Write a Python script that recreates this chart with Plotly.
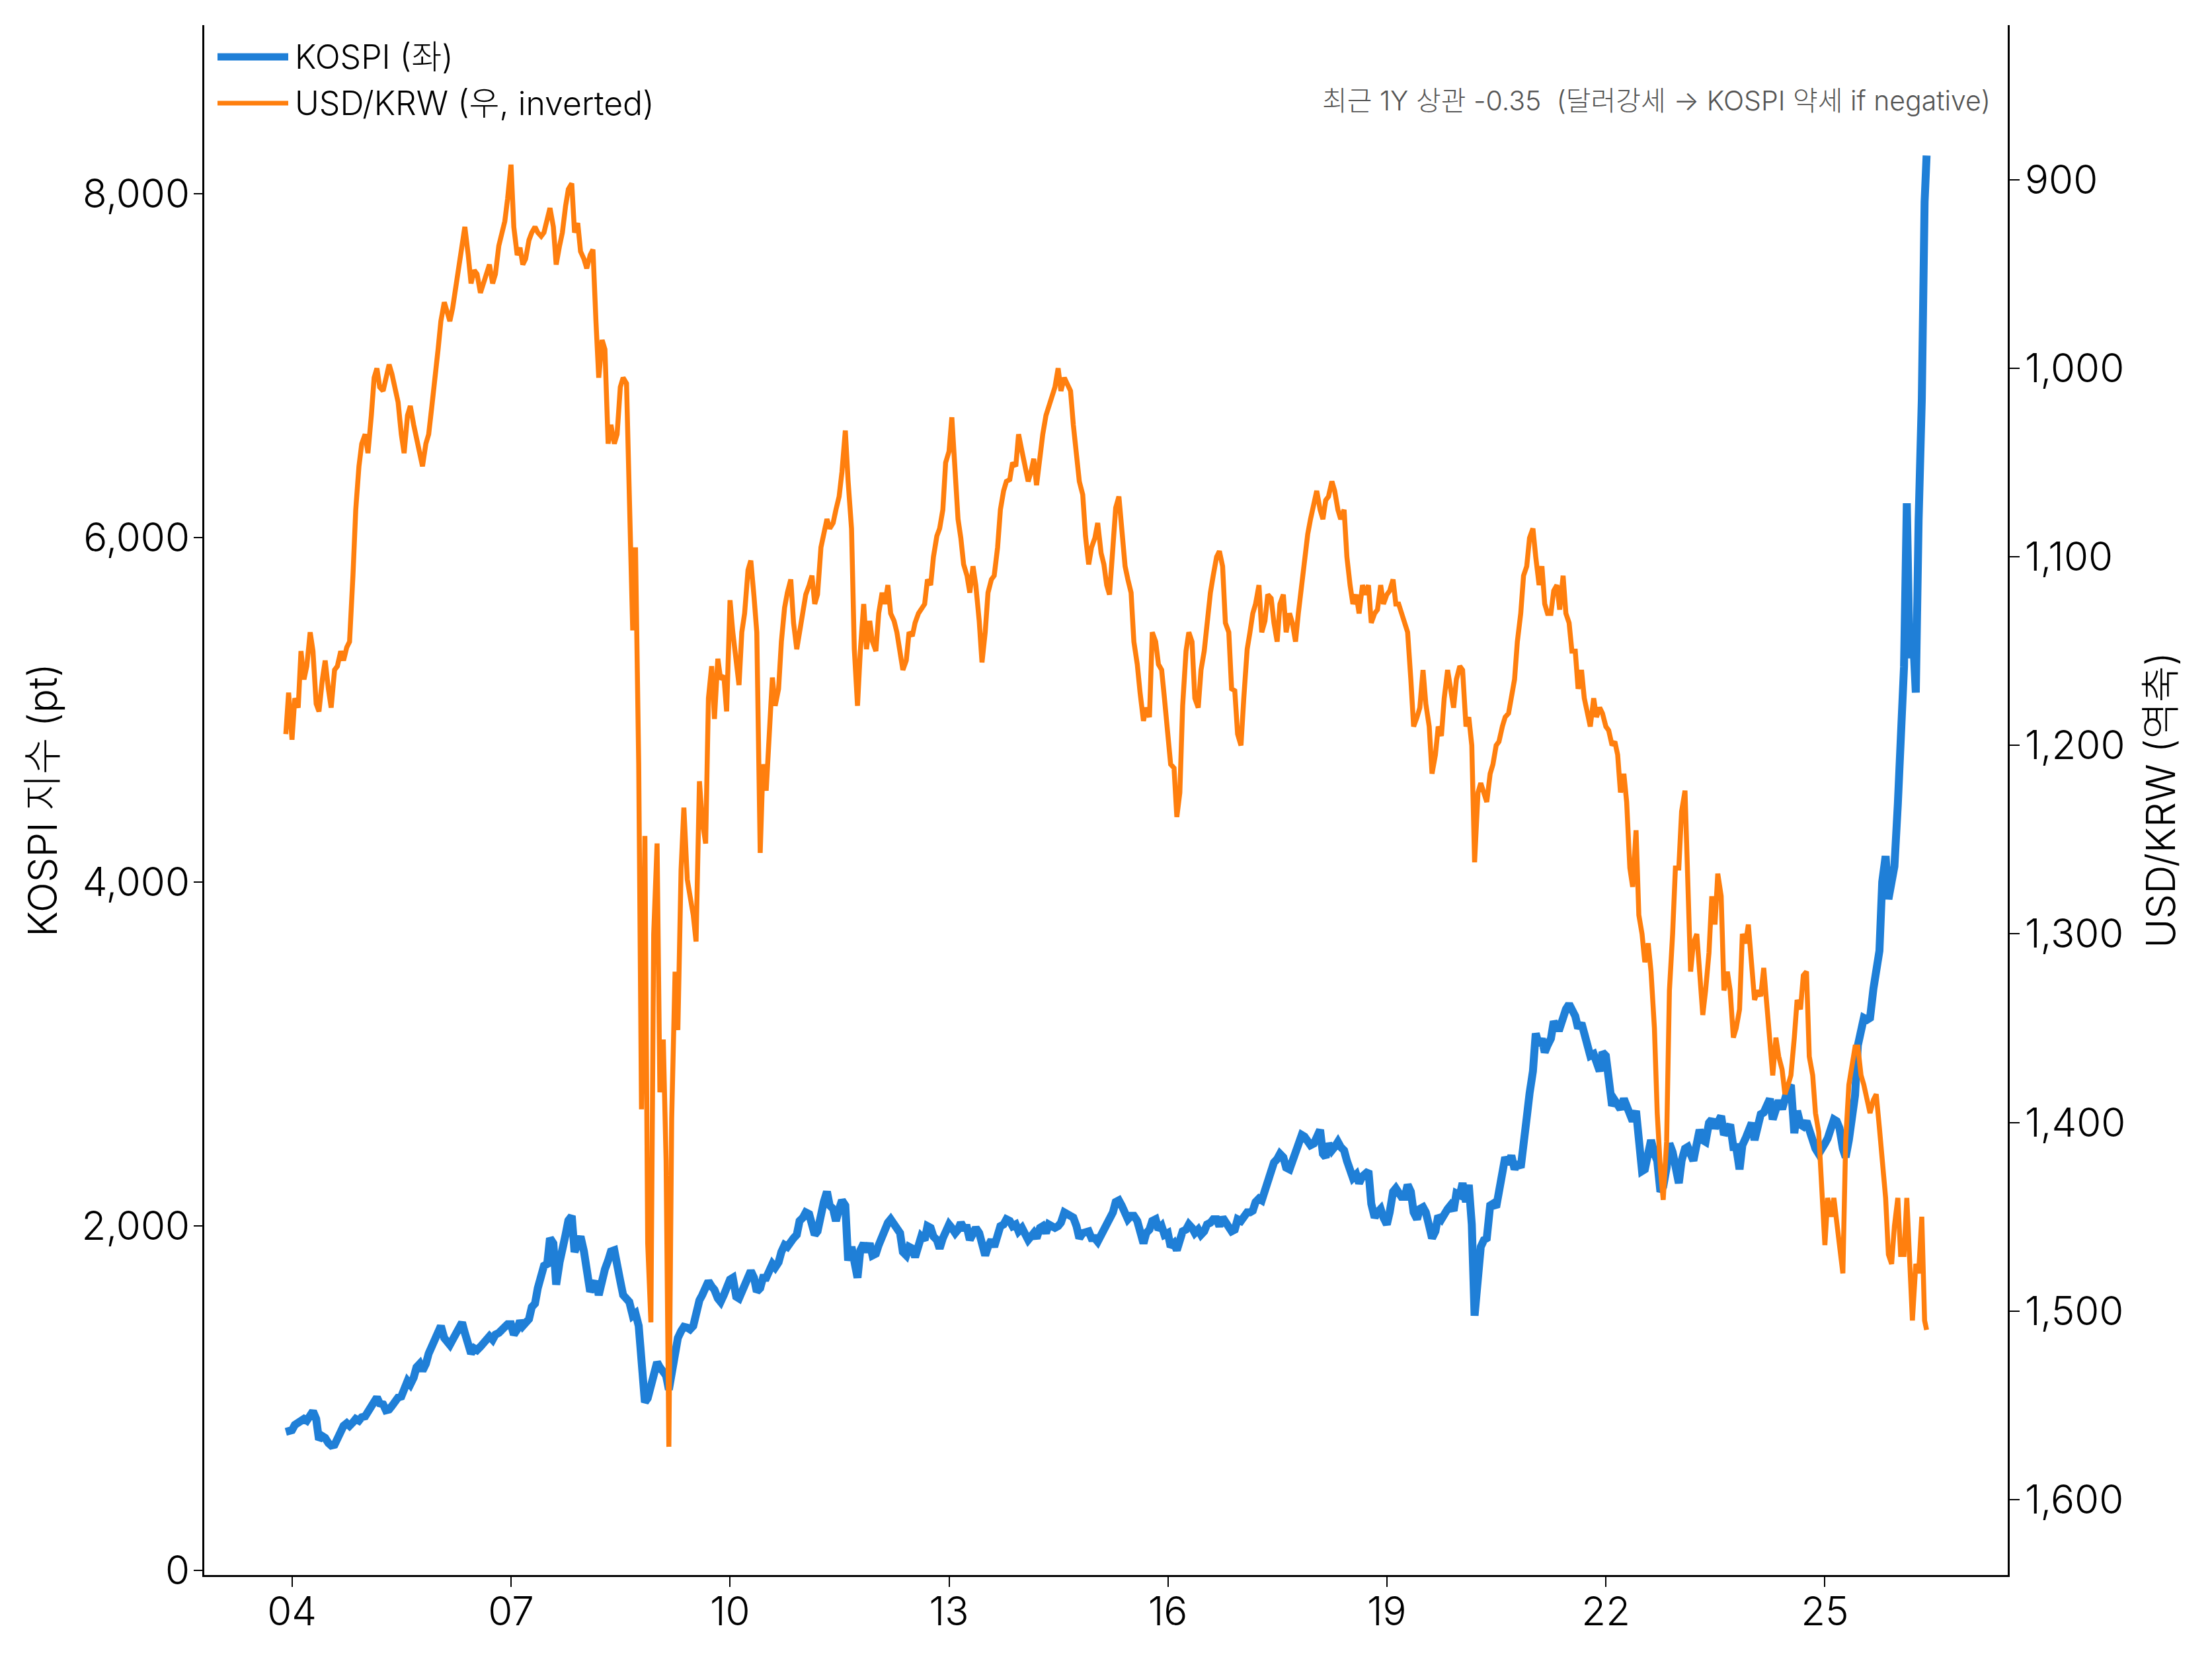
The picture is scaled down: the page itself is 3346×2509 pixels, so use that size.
import pandas as pd
import plotly.graph_objects as go

# ---- data (semi-monthly readings: 1st and 15th of each month, Dec 2003 -> May 2026, plus final print) ----
dates = list(pd.date_range("2003-12-01", "2026-05-15", freq="SMS")) + [pd.Timestamp("2026-05-25")]

kospi = [
    805, 812,  # 2003-12
    815, 845, 860, 880, 880, 870, 905, 925, 880, 760, 780, 770, 740, 725, 730, 770, 810, 840, 855, 840, 860, 880, 870, 890,  # 2004
    895, 920, 950, 990, 1005, 970, 965, 930, 935, 955, 990, 1005, 1010, 1070, 1100, 1080, 1120, 1180, 1200, 1160, 1200, 1260, 1300, 1340,  # 2005
    1390, 1420, 1350, 1330, 1310, 1340, 1370, 1410, 1440, 1380, 1330, 1260, 1290, 1280, 1300, 1320, 1350, 1360, 1340, 1370, 1380, 1400, 1410, 1430,  # 2006
    1430, 1370, 1400, 1450, 1420, 1440, 1460, 1530, 1550, 1640, 1720, 1770, 1780, 1930, 1900, 1660, 1790, 1850, 1950, 2033, 2059, 1850, 1900, 1940,  # 2007
    1853, 1700, 1620, 1650, 1680, 1600, 1700, 1750, 1800, 1853, 1860, 1740, 1680, 1600, 1570, 1560, 1480, 1493, 1420, 1132, 977, 1000, 1081, 1150,  # 2008
    1209, 1180, 1158, 1132, 1050, 1150, 1250, 1350, 1390, 1415, 1410, 1400, 1420, 1493, 1570, 1600, 1640, 1680, 1650, 1630, 1580, 1560, 1600, 1660,  # 2009
    1690, 1700, 1590, 1580, 1620, 1660, 1710, 1740, 1700, 1620, 1640, 1700, 1700, 1740, 1780, 1760, 1790, 1850, 1890, 1880, 1920, 1930, 1950, 2030,  # 2010
    2050, 2080, 2070, 1990, 1950, 1970, 2100, 2140, 2200, 2120, 2100, 2030, 2100, 2150, 2120, 1800, 1880, 1760, 1700, 1860, 1900, 1850, 1900, 1830,  # 2011
    1840, 1890, 1950, 2000, 2020, 2040, 2010, 1990, 1960, 1850, 1830, 1880, 1870, 1820, 1880, 1940, 1920, 2000, 1990, 1940, 1920, 1870, 1930, 1980,  # 2012
    2010, 1990, 1960, 1980, 2020, 1990, 1990, 1920, 1960, 1990, 1960, 1870, 1830, 1880, 1920, 1880, 1930, 2000, 2010, 2040, 2030, 2000, 2010, 1970,  # 2013
    1990, 1950, 1920, 1940, 1960, 1930, 1990, 2000, 1960, 2010, 2000, 1990, 2000, 2020, 2080, 2070, 2060, 2050, 2000, 1930, 1960, 1960, 1970, 1930,  # 2014
    1930, 1910, 1950, 1960, 2000, 2030, 2080, 2140, 2150, 2120, 2080, 2040, 2060, 2060, 2030, 1960, 1900, 1960, 1980, 2030, 2040, 1980, 2000, 1950,  # 2015
    1960, 1880, 1900, 1860, 1920, 1970, 1980, 2010, 1990, 1960, 1980, 1950, 1970, 2010, 2020, 2040, 2040, 2000, 2050, 2030, 2000, 1970, 1980, 2040,  # 2016
    2030, 2060, 2080, 2080, 2090, 2140, 2160, 2150, 2210, 2290, 2350, 2370, 2390, 2420, 2400, 2340, 2330, 2380, 2400, 2470, 2530, 2520, 2480, 2470,  # 2017
    2480, 2510, 2560, 2420, 2400, 2480, 2440, 2460, 2490, 2460, 2440, 2380, 2300, 2280, 2300, 2250, 2290, 2310, 2320, 2130, 2050, 2080, 2100, 2050,  # 2018
    2010, 2080, 2200, 2220, 2180, 2170, 2170, 2240, 2200, 2080, 2040, 2100, 2110, 2080, 2000, 1930, 1970, 2060, 2040, 2080, 2100, 2120, 2090, 2190,  # 2019
    2180, 2250, 2140, 2240, 2010, 1480, 1720, 1880, 1920, 1930, 2120, 2130, 2110, 2200, 2280, 2400, 2360, 2410, 2330, 2370, 2340, 2540, 2630, 2770,  # 2020
    2900, 3120, 3050, 3090, 3010, 3050, 3090, 3190, 3150, 3150, 3220, 3260, 3290, 3260, 3220, 3150, 3180, 3120, 3020, 2990, 3000, 2960, 2900, 3010,  # 2021
    2990, 2860, 2700, 2730, 2700, 2680, 2740, 2700, 2680, 2610, 2670, 2450, 2320, 2330, 2450, 2500, 2420, 2380, 2200, 2230, 2340, 2480, 2430, 2360,  # 2022
    2250, 2380, 2450, 2460, 2410, 2380, 2480, 2560, 2500, 2490, 2600, 2620, 2570, 2610, 2640, 2530, 2560, 2590, 2460, 2460, 2330, 2470, 2510, 2560,  # 2023
    2600, 2500, 2570, 2650, 2660, 2690, 2740, 2620, 2690, 2730, 2680, 2760, 2800, 2820, 2540, 2670, 2590, 2580, 2610, 2560, 2480, 2450, 2420, 2440,  # 2024
    2480, 2510, 2560, 2620, 2610, 2570, 2450, 2400, 2500, 2600, 2760, 3050, 3150, 3210, 3200, 3210, 3380, 3480, 3600, 4000, 4150, 3900, 4000, 4090,  # 2025
    4450, 4920, 5250, 6200, 5300, 5500, 5100, 6100, 6800, 7950,  # 2026 Jan-May
    8220,  # last print
]

usdkrw = [
    1194, 1172,  # 2003-12
    1197, 1175, 1180, 1150, 1165, 1158, 1140, 1150, 1178, 1182, 1165, 1155, 1170, 1180, 1160, 1158, 1150, 1155, 1148, 1145, 1110, 1075, 1052, 1040,  # 2004
    1035, 1045, 1025, 1005, 1000, 1010, 1012, 1005, 998, 1003, 1010, 1018, 1035, 1045, 1025, 1020, 1030, 1038, 1045, 1052, 1040, 1035, 1020, 1008,  # 2005
    990, 975, 965, 970, 975, 968, 955, 945, 935, 925, 940, 955, 948, 950, 960, 955, 948, 945, 955, 950, 935, 928, 922, 910,  # 2006
    892, 925, 940, 936, 945, 942, 932, 928, 925, 928, 930, 928, 922, 915, 925, 945, 935, 928, 914, 905, 902, 928, 923, 938,  # 2007
    942, 947, 940, 937, 975, 1005, 985, 990, 1040, 1030, 1040, 1035, 1010, 1005, 1008, 1060, 1139, 1095, 1210, 1393, 1248, 1464, 1506, 1300,  # 2008
    1252, 1384, 1356, 1420, 1572, 1398, 1320, 1351, 1266, 1233, 1271, 1280, 1290, 1304, 1219, 1240, 1252, 1175, 1158, 1186, 1154, 1165, 1163, 1182,  # 2009
    1123, 1140, 1154, 1168, 1140, 1130, 1107, 1102, 1121, 1140, 1257, 1210, 1224, 1194, 1164, 1179, 1170, 1145, 1127, 1119, 1112, 1135, 1149, 1140,  # 2010
    1127, 1120, 1115, 1110, 1125, 1120, 1095, 1089, 1080, 1085, 1082, 1075, 1068, 1055, 1033, 1060, 1085, 1149, 1179, 1150, 1125, 1149, 1134, 1145,  # 2011
    1150, 1130, 1119, 1125, 1115, 1130, 1134, 1140, 1149, 1160, 1155, 1140, 1142, 1135, 1130, 1128, 1125, 1112, 1115, 1100, 1089, 1085, 1075, 1050,  # 2012
    1044, 1026, 1052, 1080, 1090, 1104, 1110, 1119, 1105, 1115, 1134, 1156, 1140, 1119, 1112, 1110, 1095, 1075, 1065, 1060, 1059, 1050, 1052, 1035,  # 2013
    1044, 1052, 1060, 1055, 1048, 1062, 1045, 1035, 1025, 1020, 1014, 1010, 1000, 1012, 1005, 1008, 1012, 1030, 1045, 1060, 1067, 1089, 1104, 1095,  # 2014
    1090, 1082, 1098, 1104, 1115, 1120, 1095, 1074, 1068, 1085, 1105, 1112, 1119, 1145, 1157, 1172, 1187, 1180, 1185, 1140, 1145, 1157, 1160, 1175,  # 2015
    1194, 1210, 1212, 1238, 1225, 1179, 1150, 1140, 1145, 1175, 1180, 1160, 1150, 1135, 1119, 1110, 1100, 1097, 1105, 1135, 1140, 1170, 1171, 1194,  # 2016
    1200, 1175, 1149, 1140, 1130, 1125, 1115, 1140, 1134, 1120, 1122, 1135, 1145, 1125, 1120, 1140, 1130, 1135, 1145, 1130, 1115, 1100, 1088, 1080,  # 2017
    1070, 1065, 1075, 1080, 1070, 1068, 1060, 1065, 1075, 1080, 1075, 1100, 1115, 1125, 1120, 1130, 1115, 1120, 1115, 1135, 1130, 1128, 1115, 1125,  # 2018
    1120, 1118, 1112, 1125, 1125, 1130, 1135, 1140, 1165, 1190, 1185, 1180, 1160, 1178, 1190, 1215, 1205, 1190, 1195, 1175, 1160, 1170, 1180, 1165,  # 2019
    1158, 1160, 1190, 1185, 1200, 1262, 1225, 1220, 1225, 1230, 1215, 1210, 1200, 1198, 1190, 1185, 1183, 1175, 1165, 1145, 1130, 1110, 1105, 1090,  # 2020
    1085, 1100, 1115, 1105, 1125, 1130, 1130, 1118, 1115, 1128, 1110, 1130, 1135, 1150, 1150, 1170, 1160, 1175, 1185, 1190, 1175, 1185, 1180, 1183,  # 2021
    1190, 1192, 1200, 1198, 1205, 1225, 1215, 1230, 1265, 1275, 1245, 1290, 1300, 1315, 1305, 1320, 1350, 1395, 1425, 1441, 1410, 1330, 1300, 1265,  # 2022
    1265, 1235, 1224, 1285, 1320, 1305, 1300, 1320, 1343, 1330, 1310, 1280, 1295, 1268, 1280, 1330, 1320, 1330, 1355, 1350, 1340, 1300, 1305, 1295,  # 2023
    1320, 1335, 1330, 1333, 1318, 1335, 1360, 1375, 1355, 1365, 1372, 1385, 1380, 1375, 1355, 1335, 1340, 1322, 1320, 1365, 1375, 1395, 1405, 1435,  # 2024
    1465, 1440, 1450, 1440, 1455, 1465, 1480, 1410, 1380, 1370, 1360, 1360, 1375, 1380, 1390, 1395, 1388, 1385, 1403, 1420, 1440, 1470, 1475, 1455,  # 2025
    1440, 1470, 1470, 1440, 1475, 1505, 1475, 1480, 1450, 1505,  # 2026 Jan-May
    1510,  # last print
]

assert len(dates) == len(kospi) == len(usdkrw), (len(dates), len(kospi), len(usdkrw))

series_names = ["KOSPI (좌)", "USD/KRW (우, inverted)"]
note_text = "최근 1Y 상관 -0.35  (달러강세 → KOSPI 약세 if negative)"
kospi_ticks = [0, 2000, 4000, 6000, 8000]

# ---- style ----
BLUE = "#1f7fd7"
ORANGE = "#ff7f0e"
FONT = "Inter, 'Noto Sans CJK KR', 'Noto Sans', sans-serif"
W, H = 3346, 2509
L, R, T, B = 309, 309, 38, 127
PW, PH = W - L - R, H - T - B


def px_x(px):
    return (px - L) / PW


def px_y(py):
    return (H - B - py) / PH


fig = go.Figure()
fig.add_trace(go.Scatter(x=dates, y=kospi, name=series_names[0], mode="lines",
                         line=dict(color=BLUE, width=12), yaxis="y", showlegend=False))
fig.add_trace(go.Scatter(x=dates, y=usdkrw, name=series_names[1], mode="lines",
                         line=dict(color=ORANGE, width=7.5), yaxis="y2", showlegend=False))

axis_common = dict(showline=True, linecolor="black", linewidth=3, ticks="outside",
                   tickcolor="black", tickwidth=2, showgrid=False, zeroline=False,
                   tickfont=dict(size=60, color="black"))

fig.update_layout(
    width=W, height=H,
    margin=dict(l=L, r=R, t=T, b=B, autoexpand=False),
    paper_bgcolor="white", plot_bgcolor="white",
    font=dict(family=FONT, size=60, color="black", weight=300),
    showlegend=False,
    xaxis=dict(type="date", range=["2002-10-19", "2027-07-05"], tick0="2004-01-01",
               dtick="M36", tickformat="%y", ticklen=15, ticklabelstandoff=-14, **axis_common),
    yaxis=dict(range=[-27, 8978], tickvals=kospi_ticks, tickformat=",d", ticklen=13,
               ticklabelstandoff=-6,
               title=dict(text="KOSPI 지수 (pt)", font=dict(size=60), standoff=18),
               **axis_common),
    yaxis2=dict(overlaying="y", side="right", range=[1640, 818], tick0=900, dtick=100,
                tickformat=",d", ticklen=15, ticklabelstandoff=-4,
                title=dict(text="USD/KRW (역축)", font=dict(size=60), standoff=34),
                **axis_common),
)

# manual legend (long line samples like the reference)
legend_rows = [(series_names[0], BLUE, 11, 86), (series_names[1], ORANGE, 7, 156)]
for name, color, lw, py in legend_rows:
    fig.add_shape(type="line", xref="paper", yref="paper",
                  x0=px_x(329), x1=px_x(436), y0=px_y(py), y1=px_y(py),
                  line=dict(color=color, width=lw))
    fig.add_annotation(text=name, xref="paper", yref="paper", x=px_x(444), y=px_y(py),
                       xanchor="left", yanchor="middle", showarrow=False,
                       font=dict(size=50, color="black"))

fig.add_annotation(text=note_text, xref="paper", yref="paper", x=px_x(3013), y=px_y(152),
                   xanchor="right", yanchor="middle", showarrow=False,
                   font=dict(size=41, color="#555555"))

fig.write_html("out.html")
